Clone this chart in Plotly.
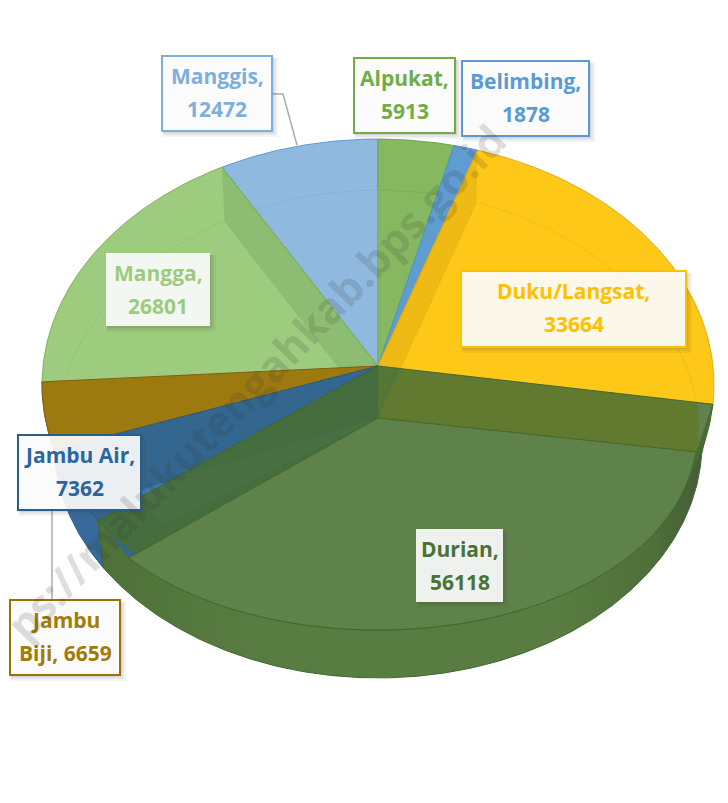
import math
import plotly.graph_objects as go

# ---------- data ----------
categories = ["Alpukat", "Belimbing", "Duku/Langsat", "Durian", "Jambu Air", "Jambu Biji", "Mangga", "Manggis"]
values = [5913, 1878, 33664, 56118, 7362, 6659, 26801, 12472]
text_colors = ["#70AD47", "#5B9BD5", "#FFC000", "#4A7237", "#2B669C", "#A27C06", "#9DCB7C", "#7CAFDD"]
label_lines = [["Alpukat,", "5913"], ["Belimbing,", "1878"], ["Duku/Langsat,", "33664"], ["Durian,", "56118"],
               ["Jambu Air,", "7362"], ["Jambu", "Biji, 6659"], ["Mangga,", "26801"], ["Manggis,", "12472"]]
watermark = "ps://malukutengahkab.bps.go.id"

# ---------- styles ----------
top_fill = ["#85B860", "#5F9CD0", "#FEC818", "rgba(74,110,51,0.87)", "#33678F", "#9C7A10", "#9ECC7E", "#90B9E0"]
edge = ["#6FA84D", "#4F8FCB", "#E0AC10", "#3F6A2D", "#2A5A85", "#7F6010", "#7FB05C", "#5B9BD5"]
floor_fill = ["#85B860", "#5F9CD0", "#FEC818", "#5E8249", None, None, "#9ECC7E", "#90B9E0"]
floor_edge = ["#7BB055", "#5F9CD0", "#F3BC14", "#43682B", None, None, "#95C474", "#84B1DE"]
paint_order = ["Manggis", "Alpukat", "Belimbing", "Duku/Langsat", "Mangga", "Jambu Biji", "Jambu Air", "Durian"]
radial_wall = {"Mangga": ("end", "rgba(120,170,100,0.45)"), "Duku/Langsat": ("start", "rgba(215,160,15,0.35)")}
floor_end_trim = {"Durian": 3.5}
air_sliver_color = "#3D7CB0"
air_sliver_span = 12.7
air_sliver_reach = 0.82

CX = 378
# cy, rx, ry, k (vertical foreshortening), kx (horizontal foreshortening)
RIM = (366, 335, 244, 0.0754, 0.0754)
FLOOR = (418, 320, 219.7, -0.036, 0.04)
LOWER = (418, 322, 231.6, 0.109, 0.109)

def proj(a, g):
    cy, rx, ry, k, kx = g
    t = math.radians(a)
    return CX + rx * math.sin(t) / (1 + kx * math.cos(t)), cy - ry * math.cos(t) / (1 + k * math.cos(t))

def arc(a0, a1, g):
    n = max(2, int(abs(a1 - a0) * 2))
    return [proj(a0 + (a1 - a0) * i / n, g) for i in range(n + 1)]

total = sum(values)
angles = {}
acc = 0
for c, v in zip(categories, values):
    angles[c] = (acc / total * 360, (acc + v) / total * 360)
    acc += v
idx = {c: i for i, c in enumerate(categories)}

fig = go.Figure()

def poly(pts, fill, line=None, lw=1, **kw):
    xs = [p[0] for p in pts] + [pts[0][0]]
    ys = [p[1] for p in pts] + [pts[0][1]]
    fig.add_trace(go.Scatter(x=xs, y=ys, mode="lines", fill="toself", fillcolor=fill,
                             line=dict(color=line or "rgba(0,0,0,0)", width=lw),
                             hoverinfo="skip", showlegend=False, **kw))

for c in paint_order:
    i = idx[c]
    a0, a1 = angles[c]
    f1 = a1 - floor_end_trim.get(c, 0)
    center_t = (CX, RIM[0])
    center_f = (CX, FLOOR[0])
    if c in ("Jambu Biji", "Jambu Air"):
        band = arc(a0, a1, RIM) + arc(a1, a0, LOWER)
        poly(band, "#8A6A10" if c == "Jambu Biji" else "#39699A", edge[i])
    if c == "Jambu Air":
        # opaque blue seen through the Durian slice's left inner wall
        end_d = angles["Durian"][1]
        end_f = end_d - floor_end_trim["Durian"]
        poly([center_t, proj(end_d, RIM), proj(end_f, FLOOR), center_f], top_fill[i])
    if c == "Durian":
        band = [proj(a0, RIM)] + arc(a0, f1, FLOOR) + [proj(a1, RIM)] + arc(a1, a0, LOWER)
        poly(band, "#567A3F", "#3F6A2D",
             fillgradient=dict(type="horizontal", colorscale=[[0, "#4F7139"], [0.25, "#587C42"], [0.75, "#587C42"], [0.9, "#4F7039"], [1, "#44583A"]]))
    poly([center_t] + arc(a0, a1, RIM), top_fill[i], edge[i])
    if floor_fill[i]:
        poly([center_f] + arc(a0, f1, FLOOR), floor_fill[i], floor_edge[i])
    if c == "Jambu Air":
        pts = arc(a0, a0 + air_sliver_span, FLOOR)
        poly([center_f] + [(CX + (x - CX) * air_sliver_reach, FLOOR[0] + (y - FLOOR[0]) * air_sliver_reach) for x, y in pts],
             air_sliver_color)
    if c in radial_wall:
        side, col = radial_wall[c]
        a = a1 if side == "end" else a0
        poly([proj(a, RIM), center_t, center_f, proj(a, FLOOR)], col)
        poly([center_t, proj(a, RIM)], "rgba(0,0,0,0)", edge[i])

# ---------- label boxes: x0, y0, x1, y1, border colour ----------
boxes = {
    "Alpukat": (354, 58, 455, 133, "#70AD47"),
    "Belimbing": (462, 61, 589, 136, "#5B9BD5"),
    "Duku/Langsat": (461, 271, 686, 347, "#FFC000"),
    "Durian": (416, 529, 503, 602, None),
    "Jambu Air": (18, 435, 141, 510, "#255E91"),
    "Jambu Biji": (10, 600, 120, 675, "#997300"),
    "Mangga": (106, 253, 210, 326, None),
    "Manggis": (162, 56, 272, 131, "#7CAFDD"),
}

shapes = [
    dict(type="path", path="M 272 94 L 283 94 L 297 145", line=dict(color="#ABABAB", width=1.5), layer="above"),
    dict(type="path", path="M 52 510 L 52 600", line=dict(color="#ABABAB", width=1.5), layer="above"),
]
annotations = []
for c, (x0, y0, x1, y1, bc) in boxes.items():
    col = text_colors[idx[c]]
    for off, op in ((6, 0.06), (4, 0.08), (2, 0.10)):
        shapes.append(dict(type="rect", x0=x0 + 1, y0=y0 + 2, x1=x1 + off, y1=y1 + off,
                           fillcolor="rgba(60,60,60,%s)" % op, line=dict(width=0), layer="above"))
    shapes.append(dict(type="rect", x0=x0, y0=y0, x1=x1, y1=y1, fillcolor="rgba(255,255,255,0.9)",
                       line=dict(color=bc or "rgba(0,0,0,0)", width=2), layer="above"))
    xm = (x0 + x1) / 2
    for line_text, yc in zip(label_lines[idx[c]], (y0 + 20, y0 + 53)):
        annotations.append(dict(x=xm, y=yc, xref="x", yref="y", text=line_text, showarrow=False,
                                xanchor="center", yanchor="middle",
                                font=dict(family="Open Sans", size=21, color=col, weight=700)))

annotations.append(dict(x=255, y=382, xref="x", yref="y", text=watermark, showarrow=False,
                        textangle=-46, xanchor="center", yanchor="middle",
                        font=dict(family="Open Sans", size=43, color="rgba(50,50,50,0.17)", weight=700)))

fig.update_layout(
    width=728, height=803, margin=dict(l=0, r=0, t=0, b=0),
    paper_bgcolor="white", plot_bgcolor="white", showlegend=False,
    xaxis=dict(range=[0, 728], visible=False, fixedrange=True),
    yaxis=dict(range=[803, 0], visible=False, fixedrange=True),
    shapes=shapes, annotations=annotations,
)
fig.write_html("out.html", config={"displayModeBar": False},
               post_script="document.body.style.margin='0';document.body.style.overflow='hidden';")
